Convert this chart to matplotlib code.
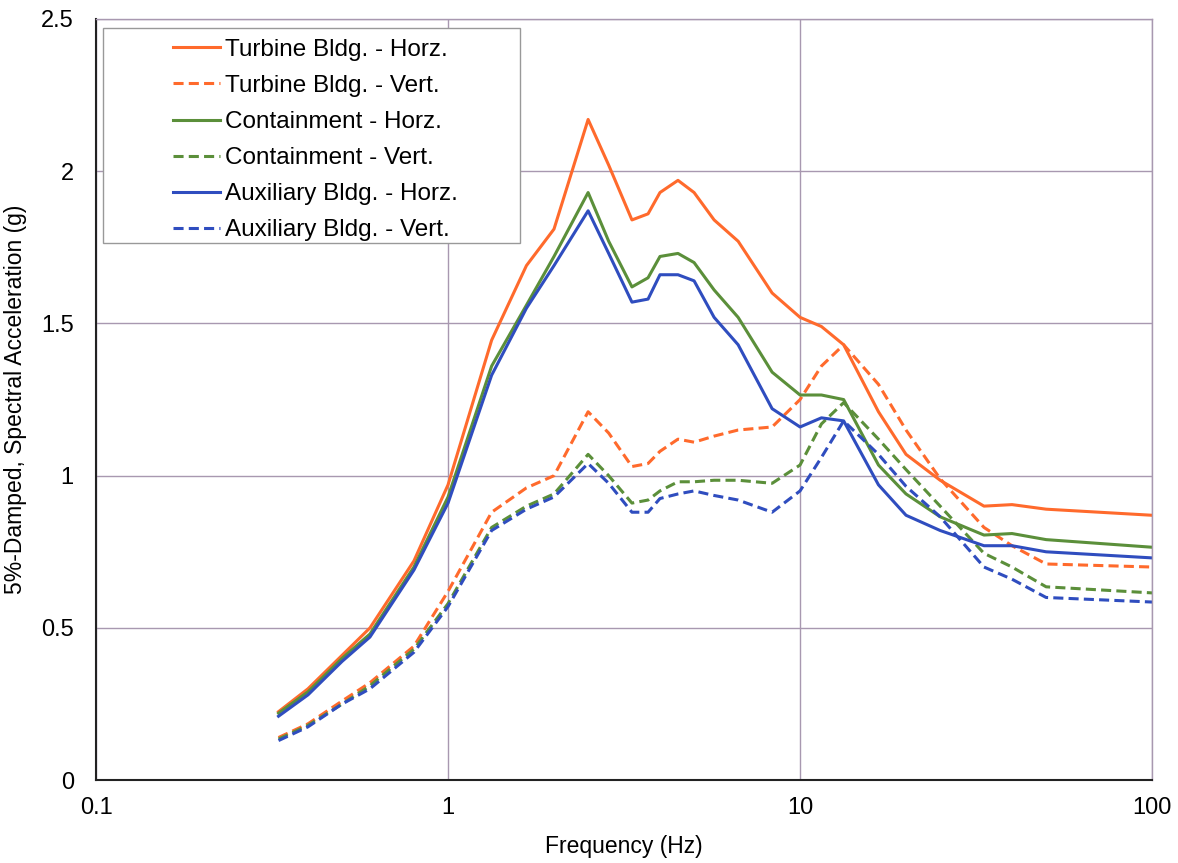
import numpy as np
import matplotlib.pyplot as plt
from matplotlib.patches import Rectangle
from matplotlib.ticker import FixedLocator, FixedFormatter

# frequencies (Hz)
freq = [0.33, 0.4, 0.5, 0.6, 0.8, 1.0, 1.33, 1.67, 2.0, 2.5, 2.86, 3.33, 3.7, 4.0,
        4.5, 5.0, 5.7, 6.67, 8.33, 10.0, 11.5, 13.3, 16.7, 20.0, 25.0, 33.3, 40.0,
        50.0, 100.0]

turbine_h = [0.225, 0.30, 0.41, 0.50, 0.72, 0.97, 1.445, 1.69, 1.81, 2.17, 2.02, 1.84,
             1.86, 1.93, 1.97, 1.93, 1.84, 1.77, 1.60, 1.52, 1.49, 1.43, 1.21, 1.07,
             0.985, 0.90, 0.905, 0.89, 0.87]
turbine_v = [0.14, 0.185, 0.26, 0.32, 0.44, 0.62, 0.88, 0.96, 1.00, 1.21, 1.14, 1.03,
             1.04, 1.08, 1.12, 1.11, 1.13, 1.15, 1.16, 1.25, 1.36, 1.43, 1.30, 1.15,
             0.99, 0.83, 0.77, 0.71, 0.70]
contain_h = [0.22, 0.29, 0.40, 0.48, 0.70, 0.93, 1.36, 1.56, 1.72, 1.93, 1.77, 1.62,
             1.65, 1.72, 1.73, 1.70, 1.61, 1.52, 1.34, 1.265, 1.265, 1.25, 1.035, 0.94,
             0.865, 0.805, 0.81, 0.79, 0.765]
contain_v = [0.135, 0.18, 0.25, 0.31, 0.43, 0.58, 0.83, 0.90, 0.94, 1.07, 1.00, 0.91,
             0.92, 0.95, 0.98, 0.98, 0.985, 0.985, 0.975, 1.035, 1.17, 1.24, 1.12, 1.02,
             0.90, 0.745, 0.70, 0.635, 0.615]
aux_h = [0.21, 0.28, 0.39, 0.47, 0.69, 0.91, 1.33, 1.55, 1.69, 1.87, 1.73, 1.57,
         1.58, 1.66, 1.66, 1.64, 1.52, 1.43, 1.22, 1.16, 1.19, 1.18, 0.97, 0.87,
         0.82, 0.77, 0.77, 0.75, 0.73]
aux_v = [0.13, 0.175, 0.25, 0.30, 0.42, 0.57, 0.82, 0.89, 0.93, 1.04, 0.975, 0.88,
         0.88, 0.925, 0.94, 0.95, 0.935, 0.92, 0.88, 0.95, 1.06, 1.18, 1.07, 0.965,
         0.865, 0.70, 0.66, 0.60, 0.585]

xticks = [0.1, 1, 10, 100]
xtick_labels = ['0.1', '1', '10', '100']
yticks = [0, 0.5, 1, 1.5, 2, 2.5]
ytick_labels = ['0', '0.5', '1', '1.5', '2', '2.5']

orange = '#ff6a2c'
green = '#5b8f3a'
blue = '#2f4dbf'
grid_c = '#a898b0'
dash = (0, (3.3, 1.7))

plt.rcParams['font.family'] = ['Liberation Sans', 'DejaVu Sans']

fig = plt.figure(figsize=(11.78, 8.63), dpi=100)
ax = fig.add_axes([0.0815, 0.096, 0.8965, 0.882])

ax.plot(freq, turbine_h, color=orange, lw=2.2, label='Turbine Bldg. - Horz.')
ax.plot(freq, turbine_v, color=orange, lw=2.2, ls=dash, label='Turbine Bldg. - Vert.')
ax.plot(freq, contain_h, color=green, lw=2.2, label='Containment - Horz.')
ax.plot(freq, contain_v, color=green, lw=2.2, ls=dash, label='Containment - Vert.')
ax.plot(freq, aux_h, color=blue, lw=2.2, label='Auxiliary Bldg. - Horz.')
ax.plot(freq, aux_v, color=blue, lw=2.2, ls=dash, label='Auxiliary Bldg. - Vert.')

ax.set_xscale('log')
ax.set_xlim(0.1, 100)
ax.set_ylim(0, 2.5)
ax.xaxis.set_major_locator(FixedLocator(xticks))
ax.xaxis.set_major_formatter(FixedFormatter(xtick_labels))
ax.xaxis.set_minor_locator(FixedLocator([]))
ax.set_yticks(yticks)
ax.set_yticklabels(ytick_labels)
ax.tick_params(length=0, labelsize=17, pad=12)
ax.tick_params(axis='y', pad=16)

ax.grid(True, color=grid_c, lw=1.0)
ax.set_axisbelow(True)
for s in ['top', 'right']:
    ax.spines[s].set_color(grid_c)
    ax.spines[s].set_linewidth(1.0)
for s in ['left', 'bottom']:
    ax.spines[s].set_color('#222222')
    ax.spines[s].set_linewidth(1.5)

ax.set_xlabel('Frequency (Hz)', fontsize=16.5, labelpad=12)
ax.set_ylabel('5%-Damped, Spectral Acceleration (g)', fontsize=16.5, labelpad=10)

# legend box drawn separately (wide left margin like the original)
box = Rectangle((103 / 1178, 1 - 243 / 863), (520 - 103) / 1178, (243 - 28) / 863,
                transform=fig.transFigure, facecolor='white', edgecolor='#999999',
                lw=1.0, zorder=5)
ax.add_patch(box)
box.set_clip_on(False)

leg = ax.legend(loc='upper left', bbox_to_anchor=(168 / 1178, 1 - 34 / 863),
                bbox_transform=fig.transFigure, fontsize=17.5, frameon=False,
                handlelength=1.95, handletextpad=0.2, labelspacing=0.58,
                borderpad=0.2, borderaxespad=0)
leg.set_zorder(6)

fig.savefig('out.png', dpi=100)
